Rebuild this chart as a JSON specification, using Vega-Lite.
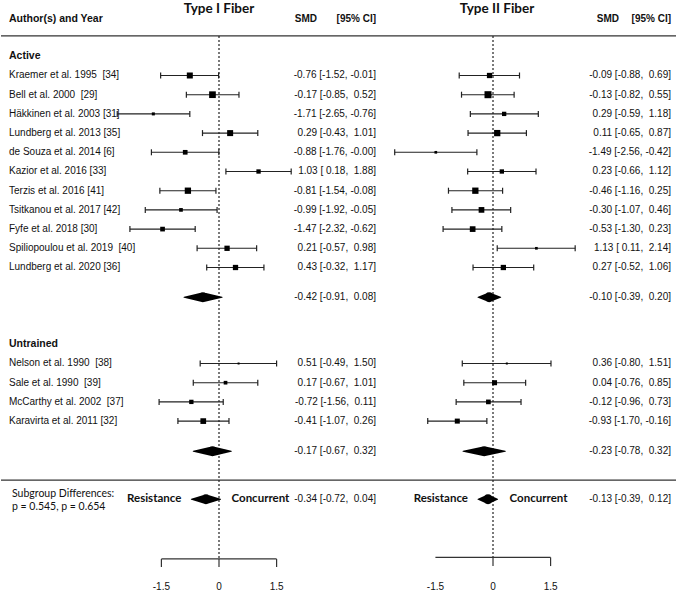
{
  "$schema": "https://vega.github.io/schema/vega-lite/v6.json",
  "padding": 0,
  "spacing": 0,
  "bounds": "flush",
  "config": {"view": {"stroke": null}},
  "data": {"values": [{}]},
  "datasets": {
    "studies": [
      {"study": "Kraemer et al. 1995\u00a0\u00a0[34]", "row": 1, "fiber": "Type I", "est": -0.76, "lo": -1.52, "hi": -0.01, "w": 9.0},
      {"study": "Bell et al. 2000\u00a0 [29]", "row": 2, "fiber": "Type I", "est": -0.17, "lo": -0.85, "hi": 0.52, "w": 11.2},
      {"study": "Häkkinen et al. 2003 [31]", "row": 3, "fiber": "Type I", "est": -1.71, "lo": -2.65, "hi": -0.76, "w": 2.3},
      {"study": "Lundberg et al. 2013 [35]", "row": 4, "fiber": "Type I", "est": 0.29, "lo": -0.43, "hi": 1.01, "w": 9.0},
      {"study": "de Souza et al. 2014 [6]", "row": 5, "fiber": "Type I", "est": -0.88, "lo": -1.76, "hi": -0.004, "w": 5.5},
      {"study": "Kazior et al. 2016 [33]", "row": 6, "fiber": "Type I", "est": 1.03, "lo": 0.18, "hi": 1.88, "w": 4.7},
      {"study": "Terzis et al. 2016 [41]", "row": 7, "fiber": "Type I", "est": -0.81, "lo": -1.54, "hi": -0.08, "w": 9.9},
      {"study": "Tsitkanou et al. 2017 [42]", "row": 8, "fiber": "Type I", "est": -0.99, "lo": -1.92, "hi": -0.05, "w": 3.4},
      {"study": "Fyfe et al. 2018 [30]", "row": 9, "fiber": "Type I", "est": -1.47, "lo": -2.32, "hi": -0.62, "w": 5.5},
      {"study": "Spiliopoulou et al. 2019\u00a0 [40]", "row": 10, "fiber": "Type I", "est": 0.21, "lo": -0.57, "hi": 0.98, "w": 7.0},
      {"study": "Lundberg et al. 2020 [36]", "row": 11, "fiber": "Type I", "est": 0.43, "lo": -0.32, "hi": 1.17, "w": 7.0},
      {"study": "Nelson et al. 1990\u00a0 [38]", "row": 16, "fiber": "Type I", "est": 0.51, "lo": -0.49, "hi": 1.50, "w": 1.0},
      {"study": "Sale et al. 1990\u00a0 [39]", "row": 17, "fiber": "Type I", "est": 0.17, "lo": -0.67, "hi": 1.01, "w": 3.4},
      {"study": "McCarthy et al. 2002\u00a0 [37]", "row": 18, "fiber": "Type I", "est": -0.72, "lo": -1.56, "hi": 0.11, "w": 4.7},
      {"study": "Karavirta et al. 2011 [32]", "row": 19, "fiber": "Type I", "est": -0.41, "lo": -1.07, "hi": 0.26, "w": 8.1},
      {"study": "Kraemer et al. 1995\u00a0\u00a0[34]", "row": 1, "fiber": "Type II", "est": -0.09, "lo": -0.88, "hi": 0.69, "w": 7.0},
      {"study": "Bell et al. 2000\u00a0 [29]", "row": 2, "fiber": "Type II", "est": -0.13, "lo": -0.82, "hi": 0.55, "w": 12.3},
      {"study": "Häkkinen et al. 2003 [31]", "row": 3, "fiber": "Type II", "est": 0.29, "lo": -0.59, "hi": 1.18, "w": 4.7},
      {"study": "Lundberg et al. 2013 [35]", "row": 4, "fiber": "Type II", "est": 0.11, "lo": -0.65, "hi": 0.87, "w": 9.9},
      {"study": "de Souza et al. 2014 [6]", "row": 5, "fiber": "Type II", "est": -1.49, "lo": -2.56, "hi": -0.42, "w": 1.8},
      {"study": "Kazior et al. 2016 [33]", "row": 6, "fiber": "Type II", "est": 0.23, "lo": -0.66, "hi": 1.12, "w": 4.7},
      {"study": "Terzis et al. 2016 [41]", "row": 7, "fiber": "Type II", "est": -0.46, "lo": -1.16, "hi": 0.25, "w": 9.9},
      {"study": "Tsitkanou et al. 2017 [42]", "row": 8, "fiber": "Type II", "est": -0.30, "lo": -1.07, "hi": 0.46, "w": 8.1},
      {"study": "Fyfe et al. 2018 [30]", "row": 9, "fiber": "Type II", "est": -0.53, "lo": -1.30, "hi": 0.23, "w": 8.1},
      {"study": "Spiliopoulou et al. 2019\u00a0 [40]", "row": 10, "fiber": "Type II", "est": 1.13, "lo": 0.11, "hi": 2.14, "w": 1.8},
      {"study": "Lundberg et al. 2020 [36]", "row": 11, "fiber": "Type II", "est": 0.27, "lo": -0.52, "hi": 1.06, "w": 7.0},
      {"study": "Nelson et al. 1990\u00a0 [38]", "row": 16, "fiber": "Type II", "est": 0.36, "lo": -0.80, "hi": 1.51, "w": 1.0},
      {"study": "Sale et al. 1990\u00a0 [39]", "row": 17, "fiber": "Type II", "est": 0.04, "lo": -0.76, "hi": 0.85, "w": 6.3},
      {"study": "McCarthy et al. 2002\u00a0 [37]", "row": 18, "fiber": "Type II", "est": -0.12, "lo": -0.96, "hi": 0.73, "w": 5.5},
      {"study": "Karavirta et al. 2011 [32]", "row": 19, "fiber": "Type II", "est": -0.93, "lo": -1.70, "hi": -0.16, "w": 6.3}
    ],
    "pooled": [
      {"grp": "Active", "row": 12.55, "fiber": "Type I", "est": -0.42, "lo": -0.91, "hi": 0.08},
      {"grp": "Untrained", "row": 20.57, "fiber": "Type I", "est": -0.17, "lo": -0.67, "hi": 0.32},
      {"grp": "Subgroup", "row": 23.07, "fiber": "Type I", "est": -0.34, "lo": -0.72, "hi": 0.04},
      {"grp": "Active", "row": 12.55, "fiber": "Type II", "est": -0.10, "lo": -0.39, "hi": 0.20},
      {"grp": "Untrained", "row": 20.57, "fiber": "Type II", "est": -0.23, "lo": -0.78, "hi": 0.32},
      {"grp": "Subgroup", "row": 23.07, "fiber": "Type II", "est": -0.13, "lo": -0.39, "hi": 0.12}
    ],
    "groups": [
      {"name": "Active", "row": 0},
      {"name": "Untrained", "row": 15}
    ],
    "ticks": [{"v": -1.5}, {"v": 0}, {"v": 1.5}]
  },
  "hconcat": [
    {
      "width": 110, "height": 593,
      "layer": [
        {"mark": {"type": "rule", "color": "#333", "strokeWidth": 1.3}, "encoding": {"y": {"datum": -1.06, "type": "quantitative", "scale": {"domain": [-2.932, 27.953], "reverse": true, "nice": false, "zero": false}, "axis": null}}},
        {"mark": {"type": "rule", "color": "#333", "strokeWidth": 1.3}, "encoding": {"y": {"datum": 22.07, "type": "quantitative", "scale": {"domain": [-2.932, 27.953], "reverse": true, "nice": false, "zero": false}, "axis": null}}},
        {"mark": {"type": "text", "align": "left", "baseline": "middle", "font": "Liberation Sans", "fontSize": 10.5, "fontWeight": "bold", "color": "#111"},
         "encoding": {"x": {"value": 8}, "y": {"datum": -1.94, "type": "quantitative", "scale": {"domain": [-2.932, 27.953], "reverse": true, "nice": false, "zero": false}, "axis": null}, "text": {"value": "Author(s) and Year"}}},
        {"data": {"name": "groups"}, "mark": {"type": "text", "align": "left", "baseline": "middle", "font": "Liberation Sans", "fontSize": 10.5, "fontWeight": "bold", "color": "#111"},
         "encoding": {"x": {"value": 8}, "y": {"field": "row", "type": "quantitative", "scale": {"domain": [-2.932, 27.953], "reverse": true, "nice": false, "zero": false}, "axis": null}, "text": {"field": "name"}}},
        {"data": {"name": "studies"}, "transform": [{"filter": "datum.fiber == 'Type I'"}],
         "mark": {"type": "text", "align": "left", "baseline": "middle", "font": "Liberation Sans", "fontSize": 10, "color": "#111"},
         "encoding": {"x": {"value": 8}, "y": {"field": "row", "type": "quantitative", "scale": {"domain": [-2.932, 27.953], "reverse": true, "nice": false, "zero": false}, "axis": null}, "text": {"field": "study"}}},
        {"mark": {"type": "text", "align": "left", "baseline": "middle", "font": "Lato", "fontSize": 10.5, "color": "#111"},
         "encoding": {"x": {"value": 11}, "y": {"datum": 22.8, "type": "quantitative", "scale": {"domain": [-2.932, 27.953], "reverse": true, "nice": false, "zero": false}, "axis": null}, "text": {"value": "Subgroup Differences:"}}},
        {"mark": {"type": "text", "align": "left", "baseline": "middle", "font": "Lato", "fontSize": 10.5, "color": "#111"},
         "encoding": {"x": {"value": 11}, "y": {"datum": 23.47, "type": "quantitative", "scale": {"domain": [-2.932, 27.953], "reverse": true, "nice": false, "zero": false}, "axis": null}, "text": {"value": "p = 0.545, p = 0.654"}}}
      ]
    },
    {
      "width": 180, "height": 593,
      "layer": [
        {"mark": {"type": "rule", "color": "#333", "strokeWidth": 1.3}, "encoding": {"y": {"datum": -1.06, "type": "quantitative", "scale": {"domain": [-2.932, 27.953], "reverse": true, "nice": false, "zero": false}, "axis": null}}},
        {"mark": {"type": "rule", "color": "#333", "strokeWidth": 1.3}, "encoding": {"y": {"datum": 22.07, "type": "quantitative", "scale": {"domain": [-2.932, 27.953], "reverse": true, "nice": false, "zero": false}, "axis": null}}},
        {"mark": {"type": "text", "align": "center", "baseline": "middle", "font": "Lato", "fontSize": 13.5, "fontWeight": "bold", "color": "#111"},
         "encoding": {"x": {"datum": 0, "type": "quantitative", "scale": {"domain": [-2.8125, 1.875], "nice": false, "zero": false}, "axis": null}, "y": {"datum": -2.46, "type": "quantitative", "scale": {"domain": [-2.932, 27.953], "reverse": true, "nice": false, "zero": false}, "axis": null}, "text": {"value": "Type I Fiber"}}},
        {"mark": {"type": "rule", "color": "#222", "strokeWidth": 1.2, "strokeDash": [2, 2]},
         "encoding": {"x": {"datum": 0, "type": "quantitative", "scale": {"domain": [-2.8125, 1.875], "nice": false, "zero": false}, "axis": null}, "y": {"datum": -1.06, "type": "quantitative", "scale": {"domain": [-2.932, 27.953], "reverse": true, "nice": false, "zero": false}, "axis": null}, "y2": {"datum": 26.18}}},
        {"data": {"name": "studies"}, "transform": [{"filter": "datum.fiber == 'Type I'"}],
         "mark": {"type": "rule", "color": "#222", "strokeWidth": 1.1},
         "encoding": {"x": {"field": "lo", "type": "quantitative", "scale": {"domain": [-2.8125, 1.875], "nice": false, "zero": false}, "axis": null}, "x2": {"field": "hi"}, "y": {"field": "row", "type": "quantitative", "scale": {"domain": [-2.932, 27.953], "reverse": true, "nice": false, "zero": false}, "axis": null}}},
        {"data": {"name": "studies"}, "transform": [{"filter": "datum.fiber == 'Type I'"}, {"fold": ["lo", "hi"], "as": ["k", "v"]}],
         "mark": {"type": "tick", "orient": "vertical", "size": 6, "thickness": 1.2, "color": "#222", "opacity": 1},
         "encoding": {"x": {"field": "v", "type": "quantitative", "scale": {"domain": [-2.8125, 1.875], "nice": false, "zero": false}, "axis": null}, "y": {"field": "row", "type": "quantitative", "scale": {"domain": [-2.932, 27.953], "reverse": true, "nice": false, "zero": false}, "axis": null}}},
        {"data": {"name": "studies"}, "transform": [{"filter": "datum.fiber == 'Type I'"}],
         "mark": {"type": "point", "shape": "square", "filled": true, "color": "#000", "opacity": 1, "strokeWidth": 0},
         "encoding": {"x": {"field": "est", "type": "quantitative", "scale": {"domain": [-2.8125, 1.875], "nice": false, "zero": false}, "axis": null}, "y": {"field": "row", "type": "quantitative", "scale": {"domain": [-2.932, 27.953], "reverse": true, "nice": false, "zero": false}, "axis": null},
           "size": {"field": "w", "type": "quantitative", "scale": {"domain": [0, 12], "range": [0, 48], "zero": true}, "legend": null}}},
        {"data": {"name": "pooled"}, "transform": [{"filter": "datum.fiber == 'Type I'"}, {"fold": ["lo", "est", "hi"], "as": ["k", "v"]}],
         "mark": {"type": "trail", "color": "#000"},
         "encoding": {"x": {"field": "v", "type": "quantitative", "scale": {"domain": [-2.8125, 1.875], "nice": false, "zero": false}, "axis": null}, "y": {"field": "row", "type": "quantitative", "scale": {"domain": [-2.932, 27.953], "reverse": true, "nice": false, "zero": false}, "axis": null},
           "order": {"field": "v", "type": "quantitative"}, "detail": {"field": "grp", "type": "nominal"},
           "size": {"condition": {"test": "datum.k == 'est'", "value": 10}, "value": 0}}},
        {"data": {"name": "pooled"}, "transform": [{"filter": "datum.fiber == 'Type I' && datum.grp == 'Subgroup'"}],
         "mark": {"type": "text", "align": "right", "baseline": "middle", "dx": -10, "font": "Lato", "fontSize": 11.5, "fontWeight": "bold", "color": "#111"},
         "encoding": {"x": {"field": "lo", "type": "quantitative", "scale": {"domain": [-2.8125, 1.875], "nice": false, "zero": false}, "axis": null}, "y": {"field": "row", "type": "quantitative", "scale": {"domain": [-2.932, 27.953], "reverse": true, "nice": false, "zero": false}, "axis": null}, "text": {"value": "Resistance"}}},
        {"data": {"name": "pooled"}, "transform": [{"filter": "datum.fiber == 'Type I' && datum.grp == 'Subgroup'"}],
         "mark": {"type": "text", "align": "left", "baseline": "middle", "dx": 11, "font": "Lato", "fontSize": 11.5, "fontWeight": "bold", "color": "#111"},
         "encoding": {"x": {"field": "hi", "type": "quantitative", "scale": {"domain": [-2.8125, 1.875], "nice": false, "zero": false}, "axis": null}, "y": {"field": "row", "type": "quantitative", "scale": {"domain": [-2.932, 27.953], "reverse": true, "nice": false, "zero": false}, "axis": null}, "text": {"value": "Concurrent"}}},
        {"mark": {"type": "rule", "color": "#333", "strokeWidth": 1.2},
         "encoding": {"x": {"datum": -1.5, "type": "quantitative", "scale": {"domain": [-2.8125, 1.875], "nice": false, "zero": false}, "axis": null}, "x2": {"datum": 1.5}, "y": {"datum": 26.18, "type": "quantitative", "scale": {"domain": [-2.932, 27.953], "reverse": true, "nice": false, "zero": false}, "axis": null}}},
        {"data": {"name": "ticks"}, "mark": {"type": "rule", "color": "#333", "strokeWidth": 1.2},
         "encoding": {"x": {"field": "v", "type": "quantitative", "scale": {"domain": [-2.8125, 1.875], "nice": false, "zero": false}, "axis": null}, "y": {"datum": 26.18, "type": "quantitative", "scale": {"domain": [-2.932, 27.953], "reverse": true, "nice": false, "zero": false}, "axis": null}, "y2": {"datum": 26.6}}},
        {"data": {"name": "ticks"}, "mark": {"type": "text", "align": "center", "baseline": "middle", "font": "Liberation Sans", "fontSize": 10, "color": "#111"},
         "encoding": {"x": {"field": "v", "type": "quantitative", "scale": {"domain": [-2.8125, 1.875], "nice": false, "zero": false}, "axis": null}, "y": {"datum": 27.64, "type": "quantitative", "scale": {"domain": [-2.932, 27.953], "reverse": true, "nice": false, "zero": false}, "axis": null}, "text": {"field": "v", "type": "nominal"}}}
      ]
    },
    {
      "width": 90, "height": 593,
      "layer": [
        {"mark": {"type": "rule", "color": "#333", "strokeWidth": 1.3}, "encoding": {"y": {"datum": -1.06, "type": "quantitative", "scale": {"domain": [-2.932, 27.953], "reverse": true, "nice": false, "zero": false}, "axis": null}}},
        {"mark": {"type": "rule", "color": "#333", "strokeWidth": 1.3}, "encoding": {"y": {"datum": 22.07, "type": "quantitative", "scale": {"domain": [-2.932, 27.953], "reverse": true, "nice": false, "zero": false}, "axis": null}}},
        {"mark": {"type": "text", "align": "right", "baseline": "middle", "font": "Liberation Sans", "fontSize": 10, "fontWeight": "bold", "color": "#111"},
         "encoding": {"x": {"value": 26}, "y": {"datum": -1.94, "type": "quantitative", "scale": {"domain": [-2.932, 27.953], "reverse": true, "nice": false, "zero": false}, "axis": null}, "text": {"value": "SMD"}}},
        {"mark": {"type": "text", "align": "right", "baseline": "middle", "font": "Liberation Sans", "fontSize": 10, "fontWeight": "bold", "color": "#111"},
         "encoding": {"x": {"value": 85}, "y": {"datum": -1.94, "type": "quantitative", "scale": {"domain": [-2.932, 27.953], "reverse": true, "nice": false, "zero": false}, "axis": null}, "text": {"value": "[95% CI]"}}},
        {"data": {"name": "studies"}, "transform": [{"filter": "datum.fiber == 'Type I'"}, {"calculate": "(datum.est < 0 ? '-' : '') + format(abs(datum.est), '.2f') + ' [' + (datum.lo < 0 ? '-' : '\u00a0') + format(abs(datum.lo), '.2f') + ', ' + (datum.hi < 0 ? '-' : '\u00a0') + format(abs(datum.hi), '.2f') + ']'", "as": "txt"}],
         "mark": {"type": "text", "align": "right", "baseline": "middle", "font": "Liberation Sans", "fontSize": 10, "color": "#111"},
         "encoding": {"x": {"value": 85}, "y": {"field": "row", "type": "quantitative", "scale": {"domain": [-2.932, 27.953], "reverse": true, "nice": false, "zero": false}, "axis": null}, "text": {"field": "txt"}}},
        {"data": {"name": "pooled"}, "transform": [{"filter": "datum.fiber == 'Type I'"}, {"calculate": "(datum.est < 0 ? '-' : '') + format(abs(datum.est), '.2f') + ' [' + (datum.lo < 0 ? '-' : '\u00a0') + format(abs(datum.lo), '.2f') + ', ' + (datum.hi < 0 ? '-' : '\u00a0') + format(abs(datum.hi), '.2f') + ']'", "as": "txt"}],
         "mark": {"type": "text", "align": "right", "baseline": "middle", "font": "Liberation Sans", "fontSize": 10, "color": "#111"},
         "encoding": {"x": {"value": 85}, "y": {"field": "row", "type": "quantitative", "scale": {"domain": [-2.932, 27.953], "reverse": true, "nice": false, "zero": false}, "axis": null}, "text": {"field": "txt"}}}
      ]
    },
    {
      "width": 205, "height": 593,
      "layer": [
        {"mark": {"type": "rule", "color": "#333", "strokeWidth": 1.3}, "encoding": {"y": {"datum": -1.06, "type": "quantitative", "scale": {"domain": [-2.932, 27.953], "reverse": true, "nice": false, "zero": false}, "axis": null}}},
        {"mark": {"type": "rule", "color": "#333", "strokeWidth": 1.3}, "encoding": {"y": {"datum": 22.07, "type": "quantitative", "scale": {"domain": [-2.932, 27.953], "reverse": true, "nice": false, "zero": false}, "axis": null}}},
        {"mark": {"type": "text", "align": "center", "baseline": "middle", "font": "Lato", "fontSize": 13.5, "fontWeight": "bold", "color": "#111", "dx": 4},
         "encoding": {"x": {"datum": 0, "type": "quantitative", "scale": {"domain": [-2.917, 2.422], "nice": false, "zero": false}, "axis": null}, "y": {"datum": -2.46, "type": "quantitative", "scale": {"domain": [-2.932, 27.953], "reverse": true, "nice": false, "zero": false}, "axis": null}, "text": {"value": "Type II Fiber"}}},
        {"mark": {"type": "rule", "color": "#222", "strokeWidth": 1.2, "strokeDash": [2, 2]},
         "encoding": {"x": {"datum": 0, "type": "quantitative", "scale": {"domain": [-2.917, 2.422], "nice": false, "zero": false}, "axis": null}, "y": {"datum": -1.06, "type": "quantitative", "scale": {"domain": [-2.932, 27.953], "reverse": true, "nice": false, "zero": false}, "axis": null}, "y2": {"datum": 26.18}}},
        {"data": {"name": "studies"}, "transform": [{"filter": "datum.fiber == 'Type II'"}],
         "mark": {"type": "rule", "color": "#222", "strokeWidth": 1.1},
         "encoding": {"x": {"field": "lo", "type": "quantitative", "scale": {"domain": [-2.917, 2.422], "nice": false, "zero": false}, "axis": null}, "x2": {"field": "hi"}, "y": {"field": "row", "type": "quantitative", "scale": {"domain": [-2.932, 27.953], "reverse": true, "nice": false, "zero": false}, "axis": null}}},
        {"data": {"name": "studies"}, "transform": [{"filter": "datum.fiber == 'Type II'"}, {"fold": ["lo", "hi"], "as": ["k", "v"]}],
         "mark": {"type": "tick", "orient": "vertical", "size": 6, "thickness": 1.2, "color": "#222", "opacity": 1},
         "encoding": {"x": {"field": "v", "type": "quantitative", "scale": {"domain": [-2.917, 2.422], "nice": false, "zero": false}, "axis": null}, "y": {"field": "row", "type": "quantitative", "scale": {"domain": [-2.932, 27.953], "reverse": true, "nice": false, "zero": false}, "axis": null}}},
        {"data": {"name": "studies"}, "transform": [{"filter": "datum.fiber == 'Type II'"}],
         "mark": {"type": "point", "shape": "square", "filled": true, "color": "#000", "opacity": 1, "strokeWidth": 0},
         "encoding": {"x": {"field": "est", "type": "quantitative", "scale": {"domain": [-2.917, 2.422], "nice": false, "zero": false}, "axis": null}, "y": {"field": "row", "type": "quantitative", "scale": {"domain": [-2.932, 27.953], "reverse": true, "nice": false, "zero": false}, "axis": null},
           "size": {"field": "w", "type": "quantitative", "scale": {"domain": [0, 12], "range": [0, 48], "zero": true}, "legend": null}}},
        {"data": {"name": "pooled"}, "transform": [{"filter": "datum.fiber == 'Type II'"}, {"fold": ["lo", "est", "hi"], "as": ["k", "v"]}],
         "mark": {"type": "trail", "color": "#000"},
         "encoding": {"x": {"field": "v", "type": "quantitative", "scale": {"domain": [-2.917, 2.422], "nice": false, "zero": false}, "axis": null}, "y": {"field": "row", "type": "quantitative", "scale": {"domain": [-2.932, 27.953], "reverse": true, "nice": false, "zero": false}, "axis": null},
           "order": {"field": "v", "type": "quantitative"}, "detail": {"field": "grp", "type": "nominal"},
           "size": {"condition": {"test": "datum.k == 'est'", "value": 10}, "value": 0}}},
        {"data": {"name": "pooled"}, "transform": [{"filter": "datum.fiber == 'Type II' && datum.grp == 'Subgroup'"}],
         "mark": {"type": "text", "align": "right", "baseline": "middle", "dx": -10, "font": "Lato", "fontSize": 11.5, "fontWeight": "bold", "color": "#111"},
         "encoding": {"x": {"field": "lo", "type": "quantitative", "scale": {"domain": [-2.917, 2.422], "nice": false, "zero": false}, "axis": null}, "y": {"field": "row", "type": "quantitative", "scale": {"domain": [-2.932, 27.953], "reverse": true, "nice": false, "zero": false}, "axis": null}, "text": {"value": "Resistance"}}},
        {"data": {"name": "pooled"}, "transform": [{"filter": "datum.fiber == 'Type II' && datum.grp == 'Subgroup'"}],
         "mark": {"type": "text", "align": "left", "baseline": "middle", "dx": 12, "font": "Lato", "fontSize": 11.5, "fontWeight": "bold", "color": "#111"},
         "encoding": {"x": {"field": "hi", "type": "quantitative", "scale": {"domain": [-2.917, 2.422], "nice": false, "zero": false}, "axis": null}, "y": {"field": "row", "type": "quantitative", "scale": {"domain": [-2.932, 27.953], "reverse": true, "nice": false, "zero": false}, "axis": null}, "text": {"value": "Concurrent"}}},
        {"mark": {"type": "rule", "color": "#333", "strokeWidth": 1.2},
         "encoding": {"x": {"datum": -1.5, "type": "quantitative", "scale": {"domain": [-2.917, 2.422], "nice": false, "zero": false}, "axis": null}, "x2": {"datum": 1.5}, "y": {"datum": 26.1, "type": "quantitative", "scale": {"domain": [-2.932, 27.953], "reverse": true, "nice": false, "zero": false}, "axis": null}}},
        {"data": {"name": "ticks"}, "transform": [{"filter": "datum.v > -1"}], "mark": {"type": "rule", "color": "#333", "strokeWidth": 1.2},
         "encoding": {"x": {"field": "v", "type": "quantitative", "scale": {"domain": [-2.917, 2.422], "nice": false, "zero": false}, "axis": null}, "y": {"datum": 26.1, "type": "quantitative", "scale": {"domain": [-2.932, 27.953], "reverse": true, "nice": false, "zero": false}, "axis": null}, "y2": {"datum": 26.55}}},
        {"data": {"name": "ticks"}, "mark": {"type": "text", "align": "center", "baseline": "middle", "font": "Liberation Sans", "fontSize": 10, "color": "#111"},
         "encoding": {"x": {"field": "v", "type": "quantitative", "scale": {"domain": [-2.917, 2.422], "nice": false, "zero": false}, "axis": null}, "y": {"datum": 27.64, "type": "quantitative", "scale": {"domain": [-2.932, 27.953], "reverse": true, "nice": false, "zero": false}, "axis": null}, "text": {"field": "v", "type": "nominal"}}}
      ]
    },
    {
      "width": 91, "height": 593,
      "layer": [
        {"mark": {"type": "rule", "color": "#333", "strokeWidth": 1.3}, "encoding": {"y": {"datum": -1.06, "type": "quantitative", "scale": {"domain": [-2.932, 27.953], "reverse": true, "nice": false, "zero": false}, "axis": null}}},
        {"mark": {"type": "rule", "color": "#333", "strokeWidth": 1.3}, "encoding": {"y": {"datum": 22.07, "type": "quantitative", "scale": {"domain": [-2.932, 27.953], "reverse": true, "nice": false, "zero": false}, "axis": null}}},
        {"mark": {"type": "text", "align": "right", "baseline": "middle", "font": "Liberation Sans", "fontSize": 10, "fontWeight": "bold", "color": "#111"},
         "encoding": {"x": {"value": 33}, "y": {"datum": -1.94, "type": "quantitative", "scale": {"domain": [-2.932, 27.953], "reverse": true, "nice": false, "zero": false}, "axis": null}, "text": {"value": "SMD"}}},
        {"mark": {"type": "text", "align": "right", "baseline": "middle", "font": "Liberation Sans", "fontSize": 10, "fontWeight": "bold", "color": "#111"},
         "encoding": {"x": {"value": 85}, "y": {"datum": -1.94, "type": "quantitative", "scale": {"domain": [-2.932, 27.953], "reverse": true, "nice": false, "zero": false}, "axis": null}, "text": {"value": "[95% CI]"}}},
        {"data": {"name": "studies"}, "transform": [{"filter": "datum.fiber == 'Type II'"}, {"calculate": "(datum.est < 0 ? '-' : '') + format(abs(datum.est), '.2f') + ' [' + (datum.lo < 0 ? '-' : '\u00a0') + format(abs(datum.lo), '.2f') + ', ' + (datum.hi < 0 ? '-' : '\u00a0') + format(abs(datum.hi), '.2f') + ']'", "as": "txt"}],
         "mark": {"type": "text", "align": "right", "baseline": "middle", "font": "Liberation Sans", "fontSize": 10, "color": "#111"},
         "encoding": {"x": {"value": 85}, "y": {"field": "row", "type": "quantitative", "scale": {"domain": [-2.932, 27.953], "reverse": true, "nice": false, "zero": false}, "axis": null}, "text": {"field": "txt"}}},
        {"data": {"name": "pooled"}, "transform": [{"filter": "datum.fiber == 'Type II'"}, {"calculate": "(datum.est < 0 ? '-' : '') + format(abs(datum.est), '.2f') + ' [' + (datum.lo < 0 ? '-' : '\u00a0') + format(abs(datum.lo), '.2f') + ', ' + (datum.hi < 0 ? '-' : '\u00a0') + format(abs(datum.hi), '.2f') + ']'", "as": "txt"}],
         "mark": {"type": "text", "align": "right", "baseline": "middle", "font": "Liberation Sans", "fontSize": 10, "color": "#111"},
         "encoding": {"x": {"value": 85}, "y": {"field": "row", "type": "quantitative", "scale": {"domain": [-2.932, 27.953], "reverse": true, "nice": false, "zero": false}, "axis": null}, "text": {"field": "txt"}}}
      ]
    }
  ]
}
